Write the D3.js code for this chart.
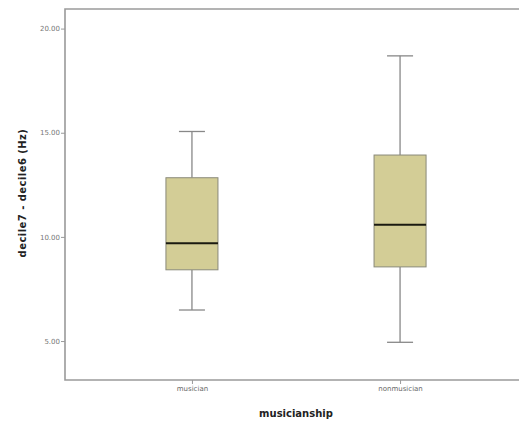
<!DOCTYPE html>
<html><head><meta charset="utf-8">
<script src="https://cdn.jsdelivr.net/npm/d3@7"></script>
<style>body{margin:0;background:#fff}svg{display:block}</style>
</head><body>
<svg id="c" width="519" height="423"></svg>
<script>
const categories = ["musician", "nonmusician"];
const whiskerLow = [6.49, 4.94];
const q1 = [8.42, 8.56];
const median = [9.70, 10.58];
const q3 = [12.84, 13.93];
const whiskerHigh = [15.06, 18.69];
const yTicks = [5, 10, 15, 20];

(function () {
const svg = d3.select("#c");
const mL = 65, mR = 527, mT = 9, mB = 380;
const y = d3.scaleLinear().domain([3.13, 20.94]).range([mB, mT]);
const x = d3.scalePoint().domain(categories).range([mL, mR]).padding(0.61);
const step = x.step();
const bw = step * 0.25, cw = step * 0.125;
const frame = "#9a9a9a";
const font = "'DejaVu Sans', Verdana, sans-serif";

// frame
svg.append("path").attr("d", `M${mR},${mT}H${mL}V${mB}H${mR}`)
  .attr("fill", "none").attr("stroke", frame).attr("stroke-width", 1.6);

// y axis
const ya = svg.append("g").attr("transform", `translate(${mL},0)`)
  .call(d3.axisLeft(y).tickValues(yTicks).tickFormat(d3.format(".2f")).tickSize(4).tickPadding(1));
ya.select(".domain").remove();
ya.selectAll("line").attr("stroke", frame);
ya.selectAll("text").attr("fill", "#777").style("font-family", font).style("font-size", "7px");

// x axis
const xa = svg.append("g").attr("transform", `translate(0,${mB})`)
  .call(d3.axisBottom(x).tickSize(4).tickPadding(2));
xa.select(".domain").remove();
xa.selectAll("line").attr("stroke", frame);
xa.selectAll("text").attr("fill", "#666").style("font-family", font).style("font-size", "7px");

// boxes
categories.forEach((c, i) => {
  const cx = x(c);
  const g = svg.append("g");
  g.append("line").attr("x1", cx).attr("x2", cx).attr("y1", y(whiskerHigh[i])).attr("y2", y(q3[i]))
    .attr("stroke", "#888").attr("stroke-width", 1.3);
  g.append("line").attr("x1", cx).attr("x2", cx).attr("y1", y(q1[i])).attr("y2", y(whiskerLow[i]))
    .attr("stroke", "#888").attr("stroke-width", 1.3);
  [whiskerHigh[i], whiskerLow[i]].forEach(v => {
    g.append("line").attr("x1", cx - cw / 2).attr("x2", cx + cw / 2).attr("y1", y(v)).attr("y2", y(v))
      .attr("stroke", "#888").attr("stroke-width", 1.3);
  });
  g.append("rect").attr("x", cx - bw / 2).attr("width", bw)
    .attr("y", y(q3[i])).attr("height", y(q1[i]) - y(q3[i]))
    .attr("fill", "#d3cd96").attr("stroke", "#8a8a7a").attr("stroke-width", 1);
  g.append("line").attr("x1", cx - bw / 2).attr("x2", cx + bw / 2).attr("y1", y(median[i])).attr("y2", y(median[i]))
    .attr("stroke", "#1a1a10").attr("stroke-width", 2);
});

// titles
svg.append("text").attr("transform", `translate(26,193) rotate(-90)`).attr("text-anchor", "middle")
  .style("font-family", font).style("font-size", "10px").style("font-weight", "bold")
  .style("letter-spacing", "0.45px")
  .attr("fill", "#222").text("decile7 - decile6 (Hz)");
svg.append("text").attr("x", 296).attr("y", 417).attr("text-anchor", "middle")
  .style("font-family", font).style("font-size", "10px").style("font-weight", "bold")
  .attr("fill", "#222").text("musicianship");
})();
</script>
</body></html>
